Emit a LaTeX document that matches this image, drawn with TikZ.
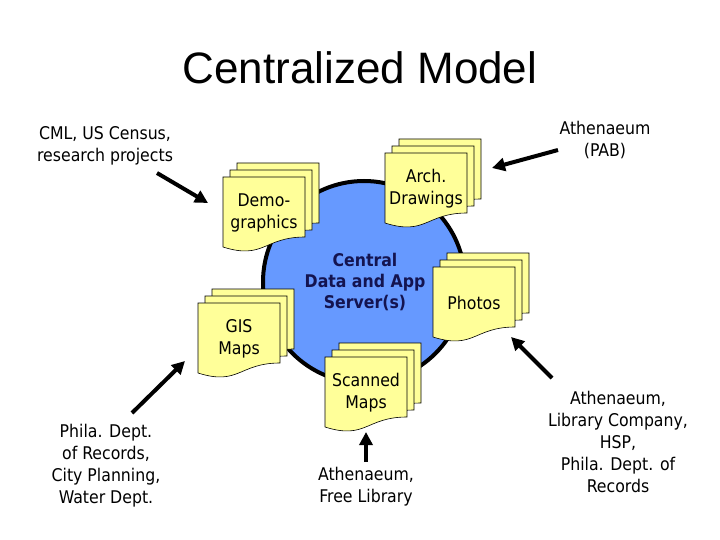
\documentclass[tikz,border=0pt]{standalone}
\usepackage{fontspec}
\setmainfont{DejaVu Sans Condensed}
\newfontfamily\titlefont{Liberation Sans}
\usetikzlibrary{arrows.meta}

\definecolor{pageyellow}{RGB}{255,255,153}
\definecolor{serverblue}{RGB}{102,153,255}
\definecolor{servertext}{RGB}{20,20,80}

\tikzset{
    page/.style={draw=black, fill=pageyellow, line width=0.6pt},
    doclabel/.style={align=center, font=\fontsize{17.5}{22}\selectfont},
    source/.style={align=center, font=\fontsize{17.5}{22}\selectfont},
    feed/.style={line width=4pt, -{Triangle[length=13pt,width=13pt]}},
}

% three stacked pages, front page top-left at (#2,#3)
\newcommand{\docstack}[4]{%
    \foreach \k in {2,1,0}
        \filldraw[page, shift={(#2+7*\k,#3-7*\k)}] (0,0) -- (82,0) -- (82,60)
            .. controls (41,60) and (41,83) .. (0,70) -- cycle;
    \node[doclabel] (#1) at (#2+41,#3+36) {#4};
}

\begin{document}
\begin{tikzpicture}[x=1pt, y=-1pt]
        \useasboundingbox (0,0) rectangle (720,540);

        % Title
        \node[anchor=base, font=\titlefont\fontsize{44}{50}\selectfont] (title) at (360,84) {Centralized Model};

        % Server
        \filldraw[fill=serverblue, draw=black, line width=4pt] (364,282) circle[radius=101];
        \node[align=center, text=servertext, font=\bfseries\fontsize{17.5}{21}\selectfont] (server) at (365,282) {Central\\Data and App\\Server(s)};

        % Document stacks
        \docstack{demo}{223}{177}{Demo-\\graphics}
        \docstack{arch}{385}{153}{Arch.\\Drawings}
        \docstack{photos}{433}{267}{Photos}
        \docstack{gis}{198}{303}{GIS\\Maps}
        \docstack{scanned}{325}{357}{Scanned\\Maps}

        % Sources
        \node[source] (cml) at (105,146) {CML, US Census,\\research projects};
        \node[source] (pab) at (605,140) {Athenaeum\\(PAB)};
        \node[source] (phila) at (106,466) {Phila. Dept.\\of Records,\\City Planning,\\Water Dept.};
        \node[source] (free) at (366,487) {Athenaeum,\\Free Library};
        \node[source] (libco) at (618,442) {Athenaeum,\\Library Company,\\HSP,\\Phila. Dept. of\\Records};

        % Arrow ends
        \coordinate (cml-from) at (157,173);
        \coordinate (cml-to) at (208,203);
        \coordinate (pab-from) at (558,150);
        \coordinate (pab-to) at (492,168);
        \coordinate (phila-from) at (132,413);
        \coordinate (phila-to) at (185,361);
        \coordinate (free-from) at (366,462);
        \coordinate (free-to) at (366,432);
        \coordinate (libco-from) at (552,378);
        \coordinate (libco-to) at (511,337);

        % Arrows
        \draw[feed] (cml-from) -- (cml-to);
        \draw[feed] (pab-from) -- (pab-to);
        \draw[feed] (phila-from) -- (phila-to);
        \draw[feed] (free-from) -- (free-to);
        \draw[feed] (libco-from) -- (libco-to);
    \end{tikzpicture}
\end{document}
